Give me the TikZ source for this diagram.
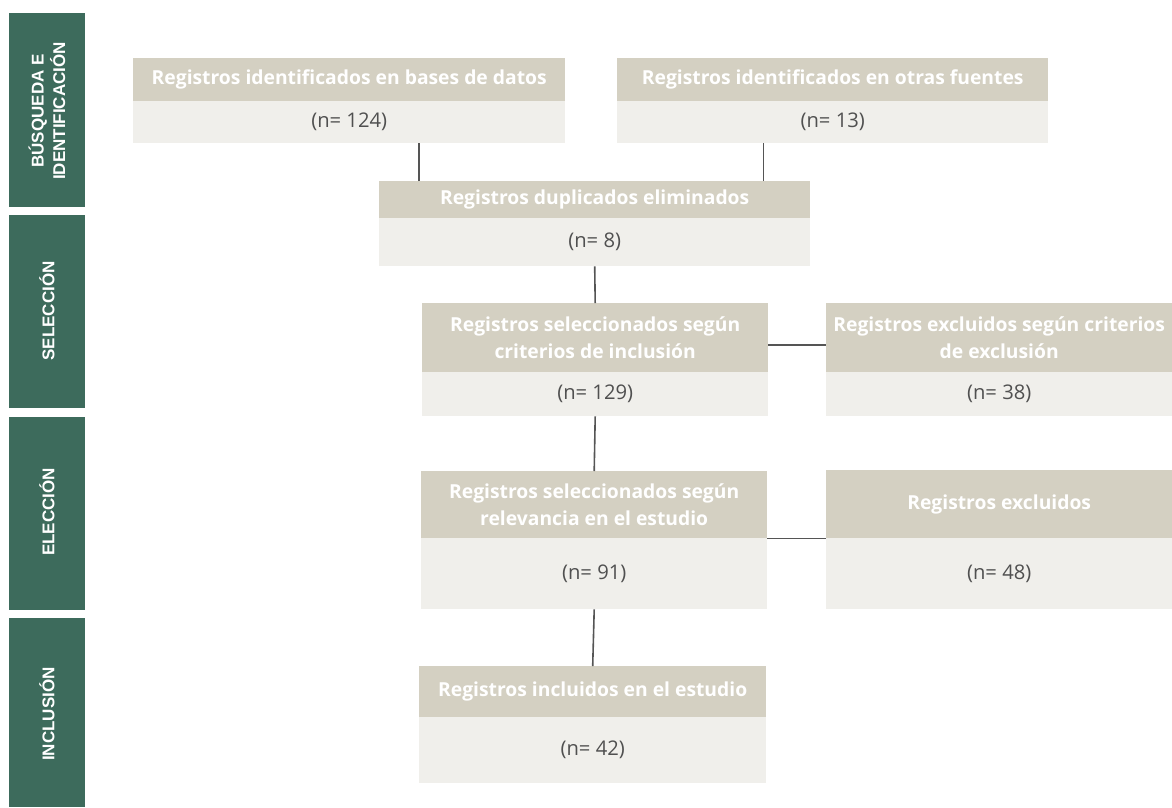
\documentclass[tikz,border=0pt]{standalone}
\usepackage{fontspec}
\usepackage{tikz}
\usetikzlibrary{positioning}
\setmainfont{Open Sans}
\newfontfamily\barfont{Liberation Sans}
\definecolor{phasegreen}{HTML}{3D6B5C}
\definecolor{headbg}{HTML}{D4D0C2}
\definecolor{bodybg}{HTML}{F0EFEB}
\definecolor{bodytext}{HTML}{505050}
\definecolor{linkgray}{HTML}{555555}
\tikzset{phase/.style = {fill=phasegreen, text=white, inner sep=0, font=\barfont\bfseries\fontsize{17}{21.5}\selectfont, align=center}}
\tikzset{head/.style = {fill=headbg, text=white, anchor=north west, inner sep=0, font=\bfseries\fontsize{19.3}{27}\selectfont, align=center}}
\tikzset{body/.style = {fill=bodybg, text=bodytext, anchor=north west, inner sep=0, font=\fontsize{20.2}{24}\selectfont}}
\tikzset{link/.style = {draw=linkgray, line width=1.6pt}}

\begin{document}
\begin{tikzpicture}[x=1pt, y=-1pt]
        \useasboundingbox (0,0) rectangle (1172,807);
        \fill [phasegreen] (9,13) rectangle (85,207);
        \fill [phasegreen] (9,215) rectangle (85,408);
        \fill [phasegreen] (9,417) rectangle (85,610);
        \fill [phasegreen] (9,618) rectangle (85,807);
        \node[phase, rotate=90] (busqueda) at (47,111) {BÚSQUEDA E\\IDENTIFICACIÓN};
        \node[phase, rotate=90] (seleccion) at (47,311) {SELECCIÓN};
        \node[phase, rotate=90] (eleccion) at (47,512) {ELECCIÓN};
        \node[phase, rotate=90] (inclusion) at (47,714) {INCLUSIÓN};
        \node[head, minimum width=432, minimum height=43] (basesH) at (133,58) {Registros identificados en bases de datos};
        \node[body, minimum width=432, minimum height=42] (basesN) at (133,101) {(n= 124)};
        \node[head, minimum width=431, minimum height=43] (fuentesH) at (617,58) {Registros identificados en otras fuentes};
        \node[body, minimum width=431, minimum height=42] (fuentesN) at (617,101) {(n= 13)};
        \node[head, minimum width=431, minimum height=37] (duplicH) at (379,181) {Registros duplicados eliminados};
        \node[body, minimum width=431, minimum height=48] (duplicN) at (379,218) {(n= 8)};
        \node[head, minimum width=346, minimum height=69] (selecH) at (422,303) {Registros seleccionados según\\criterios de inclusión};
        \node[body, minimum width=346, minimum height=44] (selecN) at (422,372) {(n= 129)};
        \node[head, minimum width=346, minimum height=69] (exclCritH) at (826,303) {Registros excluidos según criterios\\de exclusión};
        \node[body, minimum width=346, minimum height=44] (exclCritN) at (826,372) {(n= 38)};
        \node[head, minimum width=346, minimum height=67] (relevH) at (421,471) {Registros seleccionados según\\relevancia en el estudio};
        \node[body, minimum width=346, minimum height=71] (relevN) at (421,538) {(n= 91)};
        \node[head, minimum width=346, minimum height=68] (exclH) at (826,470) {Registros excluidos};
        \node[body, minimum width=346, minimum height=71] (exclN) at (826,538) {(n= 48)};
        \node[head, minimum width=347, minimum height=51] (inclH) at (419,666) {Registros incluidos en el estudio};
        \node[body, minimum width=347, minimum height=66] (inclN) at (419,717) {(n= 42)};
        \draw[link] ([xshift=40]duplicH.north west) -- ([xshift=40]duplicH.north west |- basesN.south);
        \draw[link] ([xshift=-47]duplicH.north east) -- ([xshift=-47]duplicH.north east |- fuentesN.south);
        \draw[link] (duplicN.south) -- (selecH.north);
        \draw[link] ([yshift=-7]selecH.east) -- ([yshift=-7]exclCritH.west);
        \draw[link] (selecN.south) -- (relevH.north);
        \draw[link] (relevH.south east) -- (exclH.south west);
        \draw[link] (relevN.south) -- (inclH.north);
    \end{tikzpicture}
\end{document}
